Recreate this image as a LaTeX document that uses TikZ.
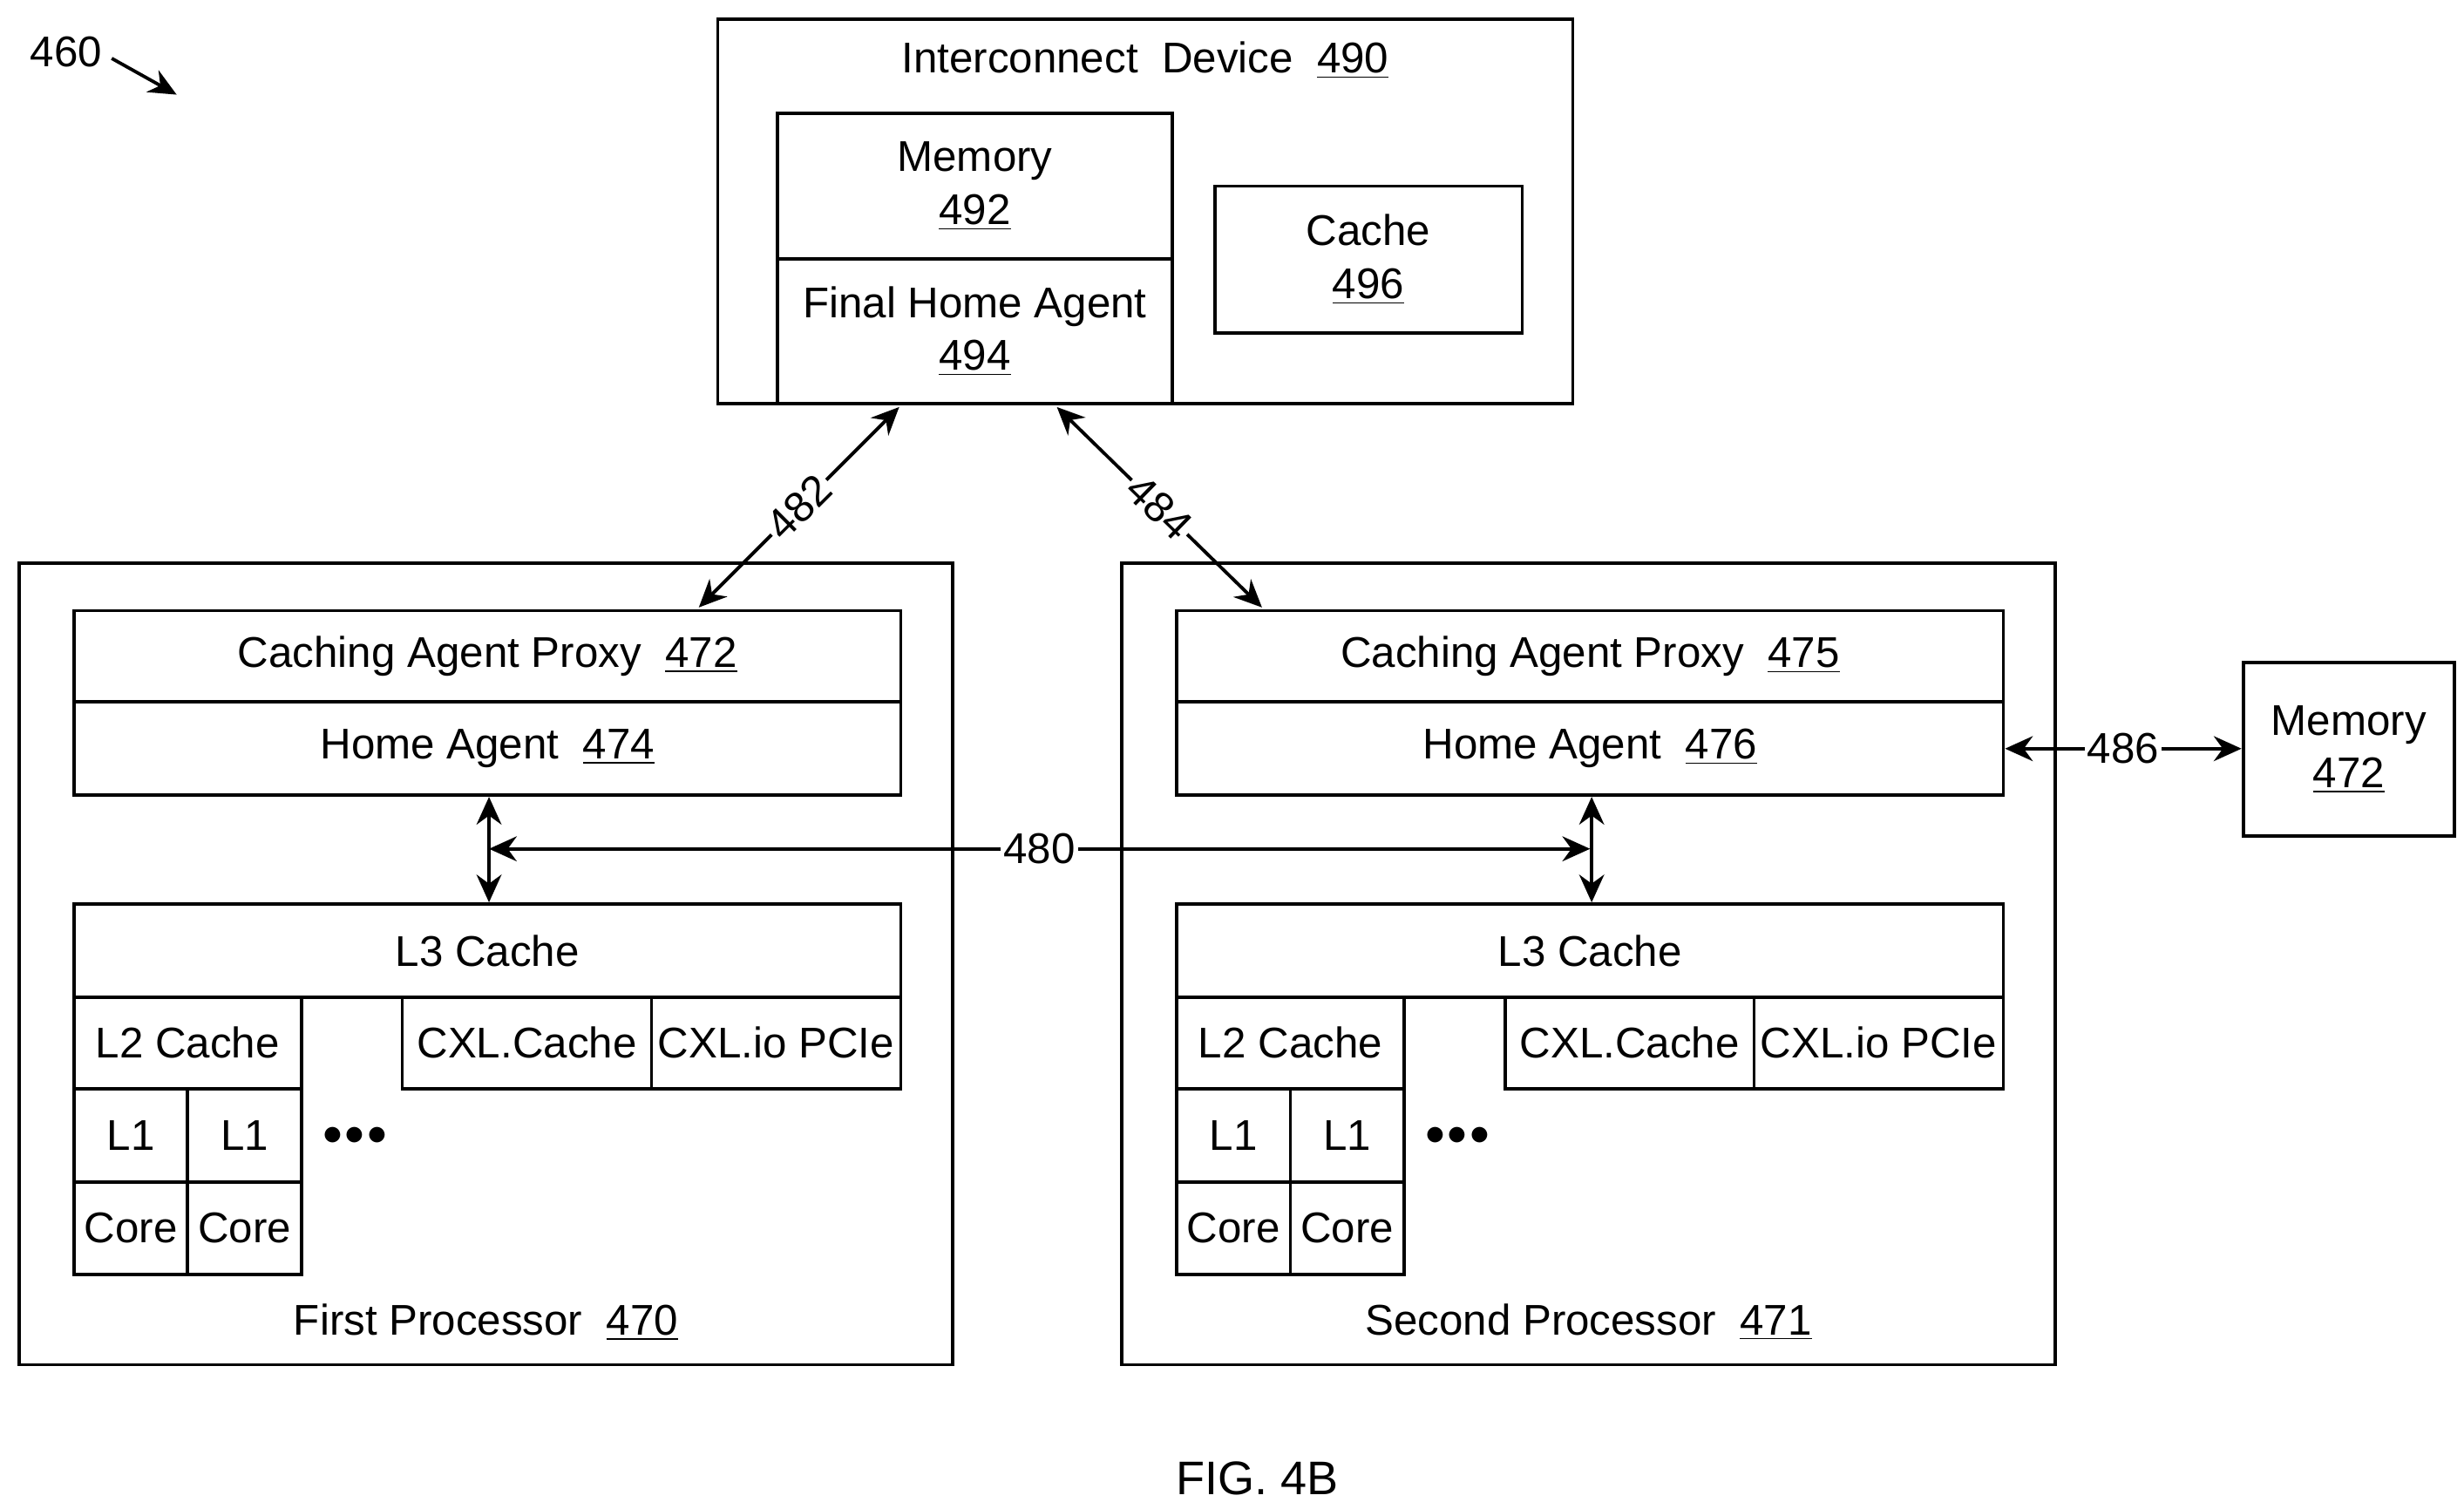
\documentclass[tikz,border=0pt]{standalone}
\usepackage{fontspec}
\setmainfont{Liberation Sans}
\usetikzlibrary{arrows.meta,fit}
\tikzset{
  box/.style={draw, line width=1.2pt, inner sep=0pt},
  lbl/.style={font=\fontsize{15.5}{19}\selectfont, inner sep=1pt, align=center},
  link/.style={line width=1.2pt, {Stealth[length=10pt,width=9pt]}-{Stealth[length=10pt,width=9pt]}}
}
\newcommand{\num}[1]{\underline{#1}}
\newcommand{\boxat}[3]{\node[box, fit={#2}] (#1) {}; \node[lbl] at (#1.center) {#3};}
\begin{document}
\begin{tikzpicture}[x=0.02cm, y=-0.02cm]
\useasboundingbox (0,0) rectangle (1562,956);

% interconnect device
\node[box, fit={(455,12) (997,256)}] (dev) {};
\node[lbl] (devlbl) at (726,38) {Interconnect~~Device~~\num{490}};
\boxat{mem}{(493,72) (743,164)}{Memory\\\num{492}}
\boxat{fha}{(493,164) (743,256)}{Final Home Agent\\\num{494}}
\boxat{cache}{(770,118) (965,211)}{Cache\\\num{496}}

% processors
\foreach \dx/\p/\pn/\cap/\ha/\name in {0/First/470/472/474/a, 699/Second/471/475/476/b}{
  \node[box, fit={(12+\dx,357) (604+\dx,865)}] (proc\name) {};
  \node[lbl] at (308+\dx,838) {\p\ Processor~~\num{\pn}};
  \boxat{cap\name}{(47+\dx,387) (571+\dx,445)}{Caching Agent Proxy~~\num{\cap}}
  \boxat{ha\name}{(47+\dx,445) (571+\dx,504)}{Home Agent~~\num{\ha}}
  \boxat{lthree\name}{(47+\dx,573) (571+\dx,632)}{L3 Cache}
  \boxat{ltwo\name}{(47+\dx,632) (191+\dx,690)}{L2 Cache}
  \boxat{cxlc\name}{(255+\dx,632) (413+\dx,690)}{CXL.Cache}
  \boxat{cxlio\name}{(413+\dx,632) (571+\dx,690)}{CXL.io PCIe}
  \boxat{lonea\name}{(47+\dx,690) (119+\dx,749)}{L1}
  \boxat{loneb\name}{(119+\dx,690) (191+\dx,749)}{L1}
  \boxat{corea\name}{(47+\dx,749) (119+\dx,808)}{Core}
  \boxat{coreb\name}{(119+\dx,749) (191+\dx,808)}{Core}
  \node[lbl, font=\Large] at (225+\dx,720) {$\bullet\!\bullet\!\bullet$};
  \draw[link] (ha\name.south -| 310+\dx,0) -- (lthree\name.north -| 310+\dx,0);
}

\boxat{memr}{(1422,420) (1556,530)}{Memory\\\num{472}}

% links
\coordinate (l480a) at (310,538);
\coordinate (l480b) at (1008,538);
\draw[link] (l480a) -- node[lbl, fill=white] {480} (l480b);
\draw[link] (570,258) -- node[lbl, fill=white, sloped] {482} (443,385);
\draw[link] (670,258) -- node[lbl, fill=white, sloped] {484} (800,385);
\draw[link] (hab.east) -- node[lbl, fill=white] {486} (memr.west |- hab.east);

\node[lbl] (ref) at (42,33) {460};
\draw[line width=1.2pt, -{Stealth[length=10pt,width=9pt]}] (ref.east) ++(4,4) -- (112,60);
\node[font=\fontsize{17}{20}\selectfont] (fig) at (797,937) {FIG. 4B};
\end{tikzpicture}
\end{document}
